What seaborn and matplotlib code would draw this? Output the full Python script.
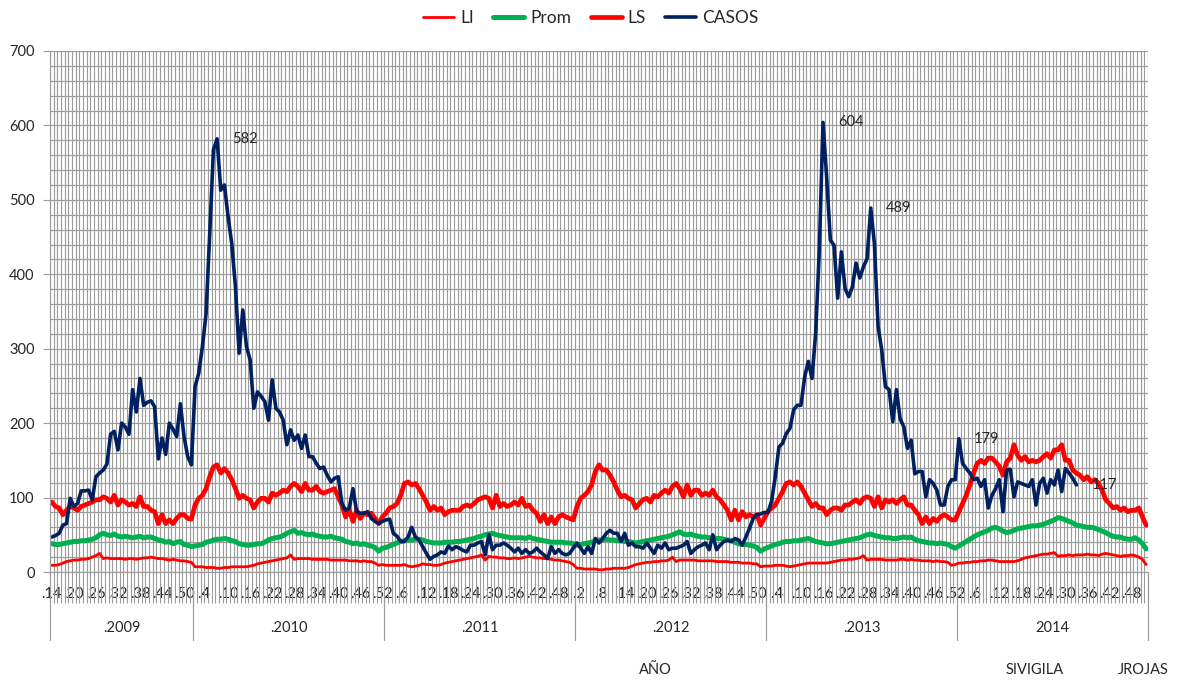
import numpy as np
import pandas as pd
import matplotlib
matplotlib.use('Agg')
import matplotlib.pyplot as plt
import matplotlib.transforms as mtransforms
import seaborn as sns

# Endemic channel, weekly cases 2009 (week 14) - 2014 (week 52)
years = ['.2009', '.2010', '.2011', '.2012', '.2013', '2014']
weeks = list(range(14, 53)) + list(range(1, 53)) * 5

casos = (
    # 2009
    [47, 49, 52, 63, 65, 99, 88, 92, 109, 109, 110, 97, 128, 133, 137, 145, 185, 189, 164, 200,
     195, 185, 245, 215, 260, 224, 228, 230, 222, 152, 180, 158, 200, 192, 182, 226, 182, 155, 144]
    # 2010
    + [249, 267, 303, 347, 455, 567, 582, 513, 520, 477, 441, 383, 294, 352, 303, 285, 220, 242, 236, 229,
       204, 258, 220, 215, 204, 171, 191, 177, 184, 166, 184, 155, 155, 146, 139, 141, 130, 121, 126, 128,
       92, 83, 86, 112, 81, 79, 79, 81, 72, 68, 65, 68]
    # 2011
    + [70, 71, 52, 48, 41, 41, 47, 60, 47, 43, 34, 25, 17, 21, 23, 27, 25, 35, 30, 34,
       32, 29, 27, 36, 36, 39, 41, 23, 50, 30, 36, 36, 39, 36, 32, 27, 32, 25, 30, 25,
       27, 32, 27, 23, 18, 34, 25, 30, 25, 23, 25, 32]
    # 2012
    + [39, 32, 25, 34, 25, 45, 39, 45, 52, 56, 52, 52, 41, 52, 36, 39, 34, 34, 32, 39,
       32, 25, 36, 32, 39, 30, 32, 32, 34, 36, 41, 25, 30, 34, 36, 39, 30, 50, 30, 36,
       41, 43, 41, 45, 43, 36, 47, 59, 72, 77, 78, 80]
    # 2013
    + [80, 95, 128, 168, 173, 186, 193, 218, 224, 224, 262, 283, 260, 321, 433, 604, 530, 446, 439, 368,
       430, 381, 370, 383, 415, 395, 410, 421, 489, 441, 330, 298, 249, 245, 202, 245, 206, 195, 166, 177,
       132, 135, 135, 101, 124, 119, 110, 90, 90, 115, 124, 124]
    # 2014 (up to week 33)
    + [179, 146, 139, 133, 124, 126, 115, 124, 86, 103, 112, 124, 81, 137, 138, 101, 121, 119, 117, 115,
       124, 90, 119, 126, 106, 124, 117, 137, 108, 139, 133, 126, 117]
)

ls = (
    [94, 88, 86, 77, 83, 88, 86, 83, 88, 90, 92, 94, 97, 97, 101, 99, 94, 103, 90, 97,
     94, 90, 92, 88, 101, 88, 88, 83, 81, 65, 77, 65, 70, 65, 72, 77, 77, 72, 71]
    + [90, 99, 103, 112, 128, 141, 144, 133, 139, 133, 124, 112, 99, 103, 99, 97, 86, 94, 99, 99,
       94, 106, 103, 106, 110, 108, 115, 119, 115, 108, 119, 110, 110, 115, 108, 106, 108, 110, 112, 101,
       90, 74, 83, 68, 83, 72, 79, 77, 79, 72, 65, 74]
    + [79, 86, 88, 92, 103, 119, 121, 117, 119, 112, 103, 94, 83, 88, 83, 86, 77, 81, 83, 83,
       83, 88, 90, 88, 92, 97, 99, 101, 99, 86, 103, 88, 92, 88, 90, 94, 90, 99, 88, 90,
       83, 79, 68, 77, 65, 74, 65, 74, 77, 74, 72, 70]
    + [88, 99, 103, 108, 117, 135, 144, 137, 137, 130, 121, 110, 101, 103, 99, 97, 86, 92, 97, 99,
       94, 103, 101, 106, 110, 106, 115, 119, 112, 101, 117, 103, 110, 110, 103, 106, 103, 110, 101, 97,
       90, 83, 70, 83, 70, 81, 74, 77, 74, 77, 63, 72]
    + [81, 86, 90, 99, 108, 119, 121, 117, 121, 115, 106, 97, 88, 92, 86, 86, 77, 83, 86, 86,
       83, 90, 90, 94, 97, 92, 99, 101, 99, 88, 101, 86, 97, 94, 97, 92, 97, 101, 90, 90,
       83, 77, 65, 74, 65, 72, 68, 74, 77, 74, 70, 70]
    + [81, 92, 103, 117, 133, 146, 150, 146, 153, 153, 148, 142, 130, 148, 153, 171, 157, 150, 155, 148,
       150, 148, 150, 155, 159, 153, 164, 164, 171, 150, 150, 137, 133, 130, 124, 128, 121, 124, 119, 110,
       97, 92, 86, 88, 83, 86, 81, 83, 83, 86, 74, 63]
)

prom = (
    [38, 37, 37, 38, 39, 40, 41, 41, 42, 42, 43, 44, 46, 50, 52, 50, 49, 51, 48, 47,
     48, 47, 46, 47, 48, 46, 47, 47, 45, 43, 42, 40, 41, 38, 40, 41, 37, 36, 34]
    + [35, 36, 37, 40, 41, 43, 44, 44, 45, 44, 42, 41, 38, 37, 36, 36, 37, 38, 38, 40,
       43, 45, 46, 47, 49, 52, 54, 56, 52, 53, 51, 50, 51, 49, 48, 47, 47, 48, 46, 45,
       44, 41, 40, 38, 39, 37, 38, 36, 35, 33, 28, 32]
    + [33, 35, 37, 39, 41, 42, 43, 43, 44, 44, 43, 41, 40, 39, 39, 39, 40, 40, 40, 41,
       41, 42, 43, 44, 45, 47, 48, 50, 51, 52, 50, 49, 48, 47, 46, 46, 46, 46, 45, 47,
       45, 44, 43, 42, 41, 40, 40, 40, 40, 39, 39, 38]
    + [36, 37, 38, 39, 40, 42, 43, 43, 44, 43, 43, 42, 42, 41, 41, 40, 39, 40, 41, 42,
       43, 44, 45, 46, 47, 48, 50, 52, 54, 51, 50, 51, 49, 48, 47, 47, 46, 46, 45, 45,
       44, 43, 42, 40, 38, 37, 37, 36, 35, 33, 28, 31]
    + [33, 35, 37, 38, 40, 41, 41, 42, 42, 43, 44, 45, 43, 41, 40, 39, 38, 38, 39, 40,
       41, 42, 43, 44, 45, 46, 48, 50, 51, 49, 48, 47, 46, 46, 45, 45, 46, 47, 46, 47,
       44, 42, 41, 40, 39, 39, 38, 39, 38, 37, 34, 32]
    + [35, 38, 41, 44, 47, 50, 52, 54, 56, 59, 60, 58, 55, 53, 54, 56, 58, 59, 60, 61,
       62, 62, 63, 64, 66, 68, 70, 73, 72, 70, 68, 66, 63, 62, 61, 60, 60, 59, 57, 55,
       53, 50, 48, 47, 47, 45, 44, 44, 46, 43, 38, 31]
)

li = (
    [9, 9, 10, 12, 14, 15, 16, 16, 17, 17, 18, 20, 22, 25, 18, 19, 18, 18, 18, 18,
     17, 18, 18, 17, 18, 19, 19, 20, 19, 18, 18, 17, 16, 17, 16, 15, 15, 14, 13]
    + [7, 7, 7, 6, 6, 6, 5, 5, 6, 6, 7, 7, 7, 7, 7, 8,
       9, 11, 12, 13, 14, 15, 16, 17, 18, 19, 23, 17, 18, 18,
       18, 18, 17, 17, 17, 17, 17, 16, 16, 16, 16, 16, 15, 15, 15, 14, 15, 14, 14, 12, 9, 10]
    + [9, 9, 9, 9, 9, 10, 8, 7, 8, 9, 11, 10, 10, 9, 9, 10,
       12, 13, 14, 15, 16, 17, 18, 19, 20, 21, 23, 16, 21, 20,
       20, 19, 19, 18, 18, 19, 18, 19, 20, 21, 20, 19, 19, 18, 18, 17, 16, 16, 15, 14, 13, 10]
    + [5, 5, 4, 4, 4, 4, 3, 3, 4, 4, 5, 5, 5, 5, 6, 8,
       10, 11, 12, 13, 13, 14, 14, 15, 15, 16, 20, 14, 16, 16,
       16, 16, 16, 15, 15, 15, 15, 15, 14, 14, 14, 14, 13, 13, 13, 12, 12, 12, 11, 11, 7, 8]
    + [8, 8, 9, 9, 9, 8, 7, 8, 9, 10, 11, 12, 12, 12, 12, 12,
       12, 13, 14, 15, 16, 16, 17, 17, 18, 19, 22, 16, 17, 17,
       17, 17, 16, 16, 16, 16, 17, 17, 16, 17, 16, 16, 15, 15, 15, 14, 15, 14, 14, 13, 9, 10]
    + [12, 12, 13, 13, 14, 14, 15, 15, 16, 16, 15, 14, 14, 14, 14, 14,
       15, 17, 19, 20, 21, 22, 23, 24, 24, 25, 26, 21, 22, 22,
       23, 22, 23, 23, 23, 24, 23, 23, 22, 24, 25, 24, 23, 22, 21, 22, 22, 23, 22, 20, 17, 10]
)

# points of CASOS carrying a data label: (year, week)
labelled = [(2010, 7), (2013, 16), (2013, 29), (2014, 1), (2014, 33)]

sns.set_theme(style='white')
plt.rcParams['font.family'] = ['Lato', 'DejaVu Sans']
grid_col = '#9c9c9c'
fs = 10.5

n = len(weeks)
x = np.arange(n)
df = pd.DataFrame({'x': x, 'LI': li, 'Prom': prom, 'LS': ls})
df_casos = pd.DataFrame({'x': x[:len(casos)], 'CASOS': casos})

fig = plt.figure(figsize=(11.77, 6.8), dpi=100)
ax = fig.add_axes([50 / 1177, 1 - 572 / 680, 1098 / 1177, 521 / 680])

styles = {'LI': ('#ff0000', 2.0), 'Prom': ('#00b050', 3.6), 'LS': ('#ff0000', 3.4)}
for name, (col, lw) in styles.items():
    sns.lineplot(data=df, x='x', y=name, color=col, lw=lw, label=name, ax=ax,
                 solid_joinstyle='round', solid_capstyle='round')
sns.lineplot(data=df_casos, x='x', y='CASOS', color='#002060', lw=2.6, label='CASOS', ax=ax,
             solid_joinstyle='round', solid_capstyle='round')

handles, labels = ax.get_legend_handles_labels()
ax.get_legend().remove()
fig.legend(handles, labels, loc='upper center', bbox_to_anchor=(0.502, 1.008), ncol=4,
           frameon=False, fontsize=12.5, handlelength=1.8, handletextpad=0.35, columnspacing=1.1)

# axes, ticks and grid
ax.set_xlim(-0.5, n - 0.5)
ax.set_ylim(0, 700)
ax.set_xlabel('')
ax.set_ylabel('')
ax.set_yticks(range(0, 701, 100))
ax.set_yticks(range(0, 701, 20), minor=True)
ax.set_xticks(x[::6])
ax.set_xticklabels(['.%d' % w + (' ' if w < 10 else '') for w in weeks[::6]], fontsize=fs)
ax.set_xticks(np.arange(-0.5, n, 1), minor=True)
ax.tick_params(axis='y', which='major', length=5, width=0.8, color=grid_col,
               labelsize=fs, pad=6, left=True)
ax.tick_params(axis='y', which='minor', length=0)
ax.tick_params(axis='x', which='major', length=0, pad=11)
ax.tick_params(axis='x', which='minor', length=22, width=0.8, color=grid_col, bottom=True)
ax.grid(which='minor', axis='x', color=grid_col, lw=0.85)
ax.grid(which='both', axis='y', color=grid_col, lw=0.85)
ax.set_axisbelow(True)
for side in ['top', 'right']:
    ax.spines[side].set_visible(False)
for side in ['left', 'bottom']:
    ax.spines[side].set_color(grid_col)
    ax.spines[side].set_linewidth(0.85)

# year groups under the week labels
year_len = [39] + [52] * 5
bounds = np.concatenate([[-0.5], np.cumsum(year_len) - 0.5])
trans = mtransforms.blended_transform_factory(ax.transData, ax.transAxes)
for b in bounds:
    ax.plot([b, b], [0, -68 / 521], transform=trans, color=grid_col, lw=0.85, clip_on=False)
for yl, a, b in zip(years, bounds[:-1], bounds[1:]):
    ax.text((a + b) / 2, -56 / 521, yl, transform=trans, ha='center', va='center', fontsize=fs)

# data labels
starts = dict(zip(range(2009, 2015), bounds[:-1] + 0.5))
for yr, wk in labelled:
    i = int(starts[yr]) + wk - (14 if yr == 2009 else 1)
    ax.annotate(str(casos[i]), (i, casos[i]), xytext=(11, 0), textcoords='offset points',
                va='center', ha='left', fontsize=fs)

fig.text(655 / 1177, 1 - 670 / 680, 'AÑO', ha='center', va='center', fontsize=fs)
fig.text(1035 / 1177, 1 - 670 / 680, 'SIVIGILA', ha='center', va='center', fontsize=fs)
fig.text(1143 / 1177, 1 - 670 / 680, 'JROJAS', ha='center', va='center', fontsize=fs)

fig.savefig('out.png', dpi=100)
